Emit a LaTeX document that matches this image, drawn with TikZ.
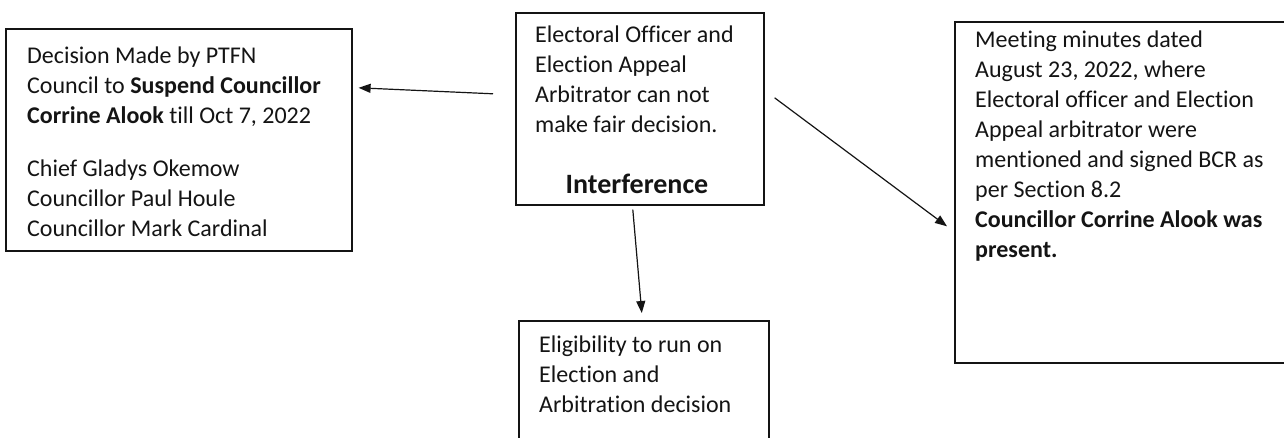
\documentclass[tikz,border=0pt]{standalone}
\usepackage{fontspec}
\setmainfont{Carlito}[Ligatures=NoCommon]
\usetikzlibrary{arrows.meta}
\definecolor{ink}{HTML}{141414}
\tikzset{
  box/.style={draw=ink, line width=1.6pt, fill=none, inner sep=0pt, anchor=north west},
  txt/.style={anchor=north west, inner sep=0pt, align=left, text=ink,
              font=\fontsize{24}{30}\selectfont},
  arr/.style={draw=ink, line width=1.2pt, -{Triangle[length=12pt,width=9pt]}}
}
\begin{document}
\begin{tikzpicture}[x=1pt,y=-1pt]
\useasboundingbox[fill=white] (0,0) rectangle (1284,437);
% boxes
\node[box, minimum width=346pt, minimum height=222pt] (L) at (5,28) {};
\node[box, minimum width=248pt, minimum height=192pt] (C) at (515,12) {};
\node[box, minimum width=370pt, minimum height=341pt] (R) at (954,21) {};
\node[box, minimum width=250pt, minimum height=150pt] (B) at (518,320) {};
% texts
\node[txt] (Lt) at (27,47) {Decision Made by PTFN\\
Council to \textbf{Suspend Councillor}\\
\textbf{Corrine Alook} till Oct 7, 2022\\[23pt]
Chief Gladys Okemow\\
Councillor Paul Houle\\
Councillor Mark Cardinal};
\node[txt] (Ct) at (535,26) {Electoral Officer and\\
Election Appeal\\
Arbitrator can not\\
make fair decision.};
\node[text=ink, inner sep=0pt, anchor=base, font=\fontsize{28}{34}\selectfont\bfseries] (Ci) at (637,193) {Interference};
\node[txt] (Rt) at (975,31) {Meeting minutes dated\\
August 23, 2022, where\\
Electoral officer and Election\\
Appeal arbitrator were\\
mentioned and signed BCR as\\
per Section 8.2\\
\textbf{Councillor Corrine Alook was}\\
\textbf{present.}};
\node[txt] (Bt) at (539,336) {Eligibility to run on\\
Election and\\
Arbitration decision};
% connectors
\draw[arr] ([xshift=-22pt,yshift=15pt]C.west) -- ([xshift=6pt,yshift=52pt]L.east);
\draw[arr] ([xshift=10pt,yshift=11pt]C.east) -- ([xshift=-7pt,yshift=-34pt]R.west);
\draw[arr] ([xshift=-7pt,yshift=-4pt]C.south) -- ([xshift=-2pt,yshift=7pt]B.north);
\end{tikzpicture}
\end{document}
